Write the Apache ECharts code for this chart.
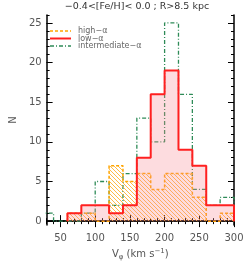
<!DOCTYPE html>
<html><head><meta charset="utf-8">
<script src="https://cdn.jsdelivr.net/npm/echarts@6/dist/echarts.min.js"></script>
<style>html,body{margin:0;padding:0;background:#fff}#c{width:249px;height:266px}</style>
</head><body><div id="c"></div>
<script>
// bin left edges (km/s), bin width 20
const binStart = [20,40,60,80,100,120,140,160,180,200,220,240,260,280];
const binEnd = 300;
const highAlpha = [0,0,1,1,0,7,5,6,4,6,6,3,0,1];
const lowAlpha  = [0,0,1,2,2,1,2,8,16,19,9,7,2,2];
const interAlpha= [1,0,0,1,5,2,6,13,10,25,16,4,2,3];
const xMajor = [50,100,150,200,250,300];
const yMajor = [0,5,10,15,20,25];
const titleText = '\u22120.4<[Fe/H]< 0.0 ; R>8.5 kpc';
const names = ['high\u2212\u03b1','low\u2212\u03b1','intermediate\u2212\u03b1'];
const colors = ['#ffa500','#ff2020','#2e8b57'];

function stepData(vals){
  let k = vals.findIndex(v=>v!==0);
  const pts = [];
  if (binStart[k] > 30) pts.push([binStart[k],0]);
  for (let i=k;i<vals.length;i++){
    if (i>k) pts.push([binStart[i], vals[i-1]]);
    pts.push([binStart[i], vals[i]]);
  }
  pts.push([binEnd, vals[vals.length-1]]);
  pts.push([binEnd, 0]);
  return pts;
}
function hatchCanvas(color, dir){
  const s=4, c=document.createElement('canvas'); c.width=s; c.height=s;
  const g=c.getContext('2d');
  g.fillStyle=color;
  for(let i=0;i<s;i++){
    const j = dir>0 ? (s-1-i) : i;
    g.fillRect(i,j,1,1);
  }
  return c;
}
const minorX=[]; for(let v=30;v<=300;v+=10) minorX.push(v);
const minorY=[]; for(let v=0;v<=26;v+=1) minorY.push(v);
const F='DejaVu Sans';
const lineAx={show:true,lineStyle:{color:'#000',width:1.5}};
function xAx(pos, labels, ticks, len, line){
  return {type:'value',position:pos,min:30,max:300,
    axisLine: line?lineAx:{show:false},
    axisTick:{show:true,inside:true,length:len,customValues:ticks,lineStyle:{color:'#000',width:1}},
    axisLabel:labels?{show:true,customValues:xMajor,color:'#555',fontSize:10,fontFamily:F,margin:8}:{show:false},
    splitLine:{show:false}};
}
function yAx(pos, labels, ticks, len, line){
  return {type:'value',position:pos,min:-0.5,max:26,
    axisLine: line?lineAx:{show:false},
    axisTick:{show:true,inside:true,length:len,customValues:ticks,lineStyle:{color:'#000',width:1}},
    axisLabel:labels?{show:true,customValues:yMajor,color:'#555',fontSize:10,fontFamily:F,margin:5}:{show:false},
    splitLine:{show:false}};
}
const xs=[xAx('bottom',true,minorX,3,true), xAx('bottom',false,xMajor,6,false), xAx('top',false,minorX,3,true), xAx('top',false,xMajor,6,false)];
xs[0].name='{a|V}{s|\u03c6}{a| (km s}{p|\u22121}{a|)}';
xs[0].nameLocation='middle'; xs[0].nameGap=22;
xs[0].nameTextStyle={rich:{a:{fontSize:10,fontFamily:F,color:'#555'},s:{fontSize:7,fontFamily:F,color:'#555',verticalAlign:'bottom',padding:[6,0,0,0]},p:{fontSize:7,fontFamily:F,color:'#555',verticalAlign:'top',padding:[0,0,6,0]}}};
const ys=[yAx('left',true,minorY,3,true), yAx('left',false,yMajor,6,false), yAx('right',false,minorY,3,true), yAx('right',false,yMajor,6,false)];
ys[0].name='N'; ys[0].nameLocation='middle'; ys[0].nameGap=25; ys[0].nameRotate=90;
ys[0].nameTextStyle={fontSize:10,fontFamily:F,color:'#555'};

const legendY=[31,38.5,46];
const dashes=[[3,2],null,[4,2,1,2]];
const widths=[1.5,2,1.3];
const legendGraphics=[];
names.forEach((n,i)=>{
  legendGraphics.push({type:'line',shape:{x1:50,y1:legendY[i],x2:71,y2:legendY[i]},
    style:{stroke:colors[i],lineWidth:widths[i],lineDash:dashes[i]}});
  legendGraphics.push({type:'text',x:78,y:legendY[i],
    style:{text:n,fontSize:8,fontFamily:F,fill:'#666',textVerticalAlign:'middle'}});
});

const chart=echarts.init(document.getElementById('c'),null,{renderer:'canvas'});
chart.setOption({
  animation:false,
  title:{text:titleText,top:2,padding:0,left:137,textAlign:'center',textStyle:{fontSize:9.5,fontWeight:'normal',fontFamily:F,color:'#333'}},
  grid:{left:39,right:15,top:15,bottom:39},
  xAxis:xs, yAxis:ys,
  graphic:legendGraphics,
  series:[
    {name:names[0],type:'line',data:stepData(highAlpha),symbol:'none',z:3,
      lineStyle:{color:colors[0],width:1.5,type:[3,2]},itemStyle:{color:colors[0]},
      areaStyle:{color:{image:hatchCanvas('rgba(255,175,40,0.85)',-1),repeat:'repeat'},opacity:1}},
    {name:names[1],type:'line',data:stepData(lowAlpha),symbol:'none',z:4,
      lineStyle:{color:colors[1],width:2},itemStyle:{color:colors[1]},
      areaStyle:{color:'rgba(250,140,150,0.3)',opacity:1}},
    {name:names[2],type:'line',data:stepData(interAlpha),symbol:'none',z:2,
      lineStyle:{color:colors[2],width:1.3,type:[4,2,1,2]},itemStyle:{color:colors[2]}}
  ]
});
</script></body></html>
